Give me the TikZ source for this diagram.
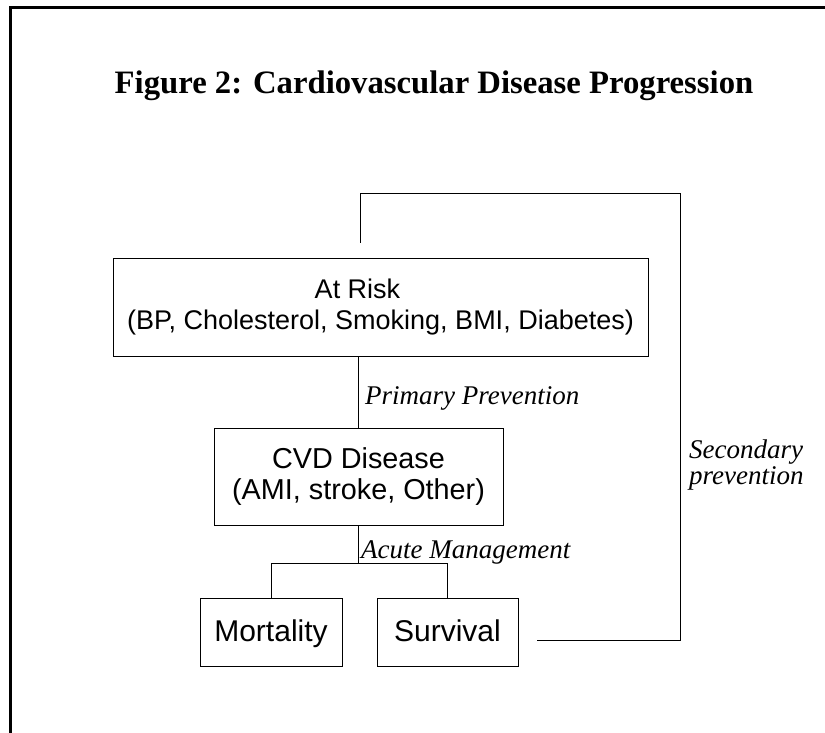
\documentclass[tikz,border=0pt]{standalone}
\usepackage{fontspec}
\setmainfont{Liberation Serif}
\newfontfamily\arialf{Liberation Sans}
\begin{document}
\begin{tikzpicture}[x=1pt,y=1pt,
  box/.style={draw, line width=0.9pt, inner sep=0pt, align=center, font=\arialf\fontsize{27}{31}\selectfont},
  smallbox/.style={box, font=\arialf\fontsize{30}{34}\selectfont, minimum width=142pt, minimum height=68pt, text height=21.5pt, text depth=2pt},
  lab/.style={font=\itshape\fontsize{27}{25.5}\selectfont, inner sep=0pt},
  conn/.style={line width=0.9pt},
  frame/.style={line width=2.4pt}]
\useasboundingbox (0,0) rectangle (825,-732);
\clip (0,0) rectangle (825,-732);
% outer frame (continues beyond the right and bottom edges)
\draw[frame] (10.5,-1000) -- (10.5,-7.5) -- (1000,-7.5);
% title
\node[font=\bfseries\fontsize{32.7}{36}\selectfont, anchor=base, inner sep=0pt] (title) at (434,-93) {Figure 2: Cardiovascular Disease Progression};
% boxes
\node[box, minimum width=535pt, minimum height=98pt] (risk) at (380.5,-307) {At Risk\rule{46pt}{0pt}\\(BP, Cholesterol, Smoking, BMI, Diabetes)};
\node[box, font=\arialf\fontsize{28.8}{31}\selectfont, minimum width=289pt, minimum height=97pt] (cvd) at (358.5,-476.5) {CVD Disease\\(AMI, stroke, Other)};
\node[smallbox] (mort) at (271,-632) {Mortality};
\node[smallbox, minimum width=141pt] (surv) at (447.5,-632) {Survival};
% connectors
\draw[conn] (risk.south -| cvd.north) -- (cvd.north);
\coordinate (split) at (358.5,-563);
\draw[conn] (cvd.south) -- (split);
\draw[conn] (mort.north) |- (split) -| (surv.north);
\coordinate (secstart) at ([shift={(19pt,-8pt)}]surv.east);
\coordinate (secend) at ([shift={(-20.5pt,15pt)}]risk.north);
\draw[conn] (secstart) -- (680,-640) -- (680,-193) -- (360,-193) -- (secend);
% labels
\node[lab, anchor=base west] (pp) at (365,-404) {Primary Prevention};
\node[lab, anchor=base west] (am) at (361,-558) {Acute Management};
\node[lab, anchor=north west, align=left] (sp) at (689,-440) {Secondary\\prevention};
\end{tikzpicture}
\end{document}
